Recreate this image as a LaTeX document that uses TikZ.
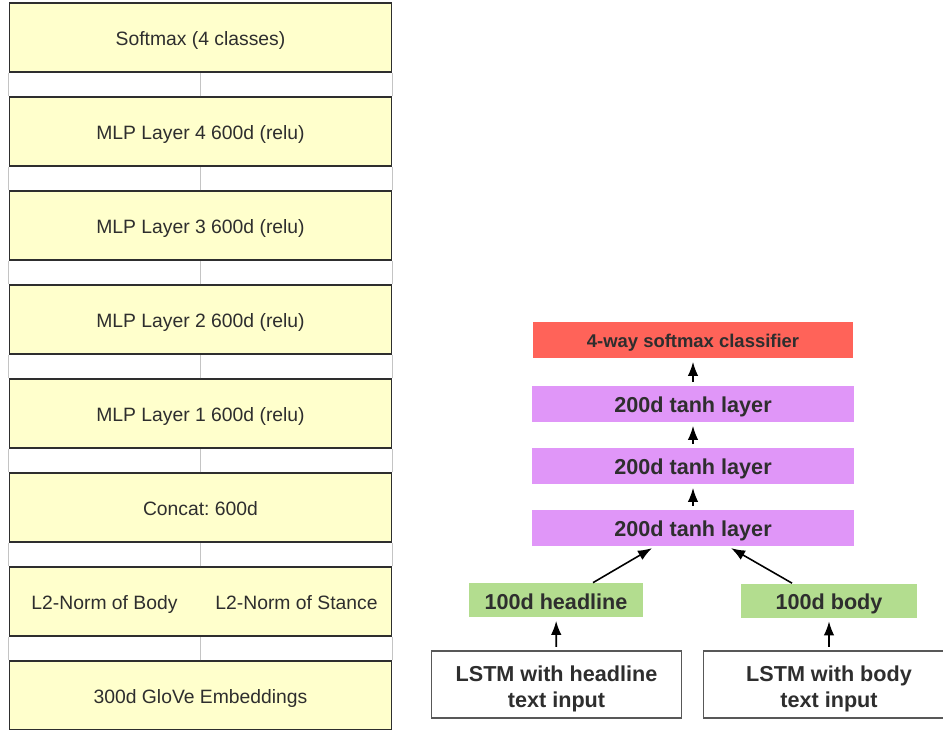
\documentclass[tikz,border=0pt]{standalone}
\usepackage{fontspec}
\setmainfont{Liberation Sans}
\usetikzlibrary{arrows.meta}
\frenchspacing

\definecolor{boxyellow}{HTML}{FFFFCC}
\definecolor{clsred}{HTML}{FF6359}
\definecolor{tanhpurple}{HTML}{E096F8}
\definecolor{vecgreen}{HTML}{B3DD8F}
\definecolor{linegray}{HTML}{C4C4C4}
\definecolor{textdark}{HTML}{2E2E2E}

\begin{document}
\begin{tikzpicture}[
  x=0.02cm, y=-0.02cm,
  label text/.style={text=textdark, text height=9.6pt, text depth=0pt, font=\fontsize{11}{13}\selectfont},
  layer/.style={label text, draw=textdark, line width=0.6pt, fill=boxyellow, minimum width=7.66cm, minimum height=1.38cm},
  link/.style={draw=linegray, line width=0.6pt},
  flat/.style={text=textdark, inner sep=0pt, text height=10pt, text depth=0pt, font=\bfseries\fontsize{12.3}{15.1}\selectfont},
  dense/.style={flat, minimum width=6.44cm, minimum height=0.72cm, fill=tanhpurple},
  feat/.style={flat, text height=10.8pt, minimum height=0.68cm, fill=vecgreen},
  lstm/.style={flat, text height=26.4pt, draw=textdark!80, line width=0.6pt, fill=white, minimum width=5cm, minimum height=1.34cm, align=center},
  up/.style={-{Latex[length=8pt,width=6pt]}, line width=0.9pt, shorten <=2pt, shorten >=2pt}
]
\useasboundingbox (0,0) rectangle (943,730);

% left column
\node[layer] (sm) at (200.5,37.5) {Softmax (4 classes)};
\node[layer] (m4) at (200.5,131.5) {MLP Layer 4 600d (relu)};
\node[layer] (m3) at (200.5,225.5) {MLP Layer 3 600d (relu)};
\node[layer] (m2) at (200.5,319.5) {MLP Layer 2 600d (relu)};
\node[layer] (m1) at (200.5,413.5) {MLP Layer 1 600d (relu)};
\node[layer] (cat) at (200.5,507.5) {Concat: 600d};
\node[layer] (norm) at (200.5,601.5) {};
\node[label text] (nb) at (104.5,601.5) {L2-Norm of Body};
\node[label text] (ns) at (296.5,601.5) {L2-Norm of Stance};
\node[layer] (glove) at (200.5,695.5) {300d GloVe Embeddings};

\foreach \lo/\hi in {m4/sm, m3/m4, m2/m3, m1/m2, cat/m1, norm/cat, glove/norm} {
  \draw[link] (\lo.north) -- (\hi.south);
  \draw[link] (\lo.north west) -- (\hi.south west);
  \draw[link] (\lo.north east) -- (\hi.south east);
}

% right column
\node[flat, fill=clsred, text height=8.6pt, minimum width=6.4cm, minimum height=0.72cm, font=\bfseries\fontsize{10.5}{12}\selectfont] (cls) at (693,340) {4-way softmax classifier};
\node[dense] (t1) at (693,404) {200d tanh layer};
\node[dense] (t2) at (693,466) {200d tanh layer};
\node[dense] (t3) at (693,528) {200d tanh layer};
\node[feat, minimum width=3.48cm] (hl) at (556,600) {100d headline};
\node[feat, minimum width=3.52cm] (bd) at (829,600.5) {100d body};
\node[lstm] (lh) at (556.5,684.5) {LSTM with headline\\text input};
\node[lstm, minimum width=5.04cm] (lb) at (829,684.5) {LSTM with body\\text input};

\draw[up] (t1) -- (cls);
\draw[up] (t2) -- (t1);
\draw[up] (t3) -- (t2);
\draw[up, shorten <=0pt] ([xshift=0.74cm]hl.north) -- ([xshift=-0.76cm]t3.south);
\draw[up, shorten <=0pt] ([xshift=-0.74cm]bd.north) -- ([xshift=0.7cm]t3.south);
\draw[up] (lh) -- (hl);
\draw[up] (lb) -- (bd);
\end{tikzpicture}
\end{document}
